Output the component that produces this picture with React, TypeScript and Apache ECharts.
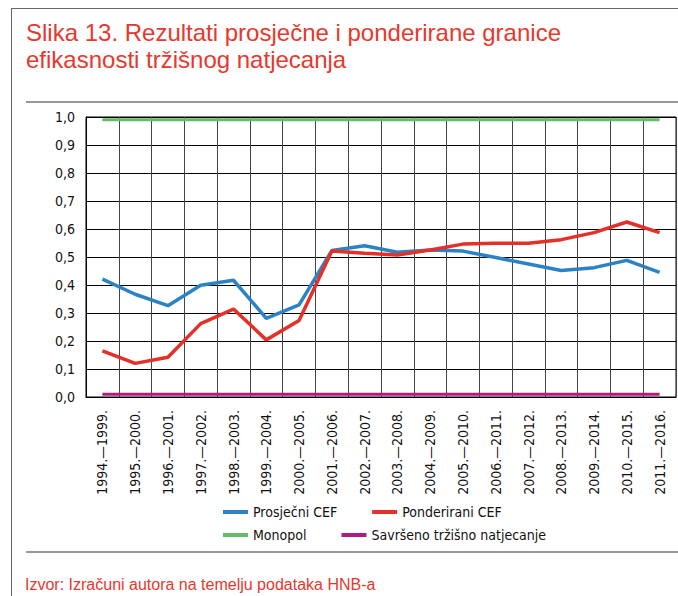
import React, { useEffect, useRef } from "react";
import * as echarts from "echarts";

const categories = [
  "1994.—1999.", "1995.—2000.", "1996.—2001.", "1997.—2002.", "1998.—2003.", "1999.—2004.",
  "2000.—2005.", "2001.—2006.", "2002.—2007.", "2003.—2008.", "2004.—2009.", "2005.—2010.",
  "2006.—2011.", "2007.—2012.", "2008.—2013.", "2009.—2014.", "2010.—2015.", "2011.—2016.",
];

const prosjecniCEF = [0.421, 0.367, 0.326, 0.399, 0.417, 0.281, 0.329, 0.523, 0.54, 0.517, 0.525, 0.521, 0.498, 0.475, 0.452, 0.462, 0.488, 0.445];
const ponderiraniCEF = [0.165, 0.12, 0.142, 0.262, 0.314, 0.204, 0.273, 0.521, 0.513, 0.507, 0.525, 0.546, 0.549, 0.549, 0.562, 0.587, 0.625, 0.587];
const monopol = [0.99, 0.99, 0.99, 0.99, 0.99, 0.99, 0.99, 0.99, 0.99, 0.99, 0.99, 0.99, 0.99, 0.99, 0.99, 0.99, 0.99, 0.99];
const savrseno = [0.01, 0.01, 0.01, 0.01, 0.01, 0.01, 0.01, 0.01, 0.01, 0.01, 0.01, 0.01, 0.01, 0.01, 0.01, 0.01, 0.01, 0.01];

const seriesNames = ["Prosječni CEF", "Ponderirani CEF", "Monopol", "Savršeno tržišno natjecanje"];
const seriesColors = ["#2b83c6", "#e53027", "#66bb6a", "#b01c7e"];

const titleText = "Slika 13. Rezultati prosječne i ponderirane granice\nefikasnosti tržišnog natjecanja";
const sourceText = "Izvor: Izračuni autora na temelju podataka HNB-a";

const NARROW = "'Liberation Sans Narrow', 'Arial Narrow', 'DejaVu Sans Condensed', sans-serif";
const REG = "'Liberation Sans', Arial, Helvetica, sans-serif";
const RED = "#e8372d";

export default function App() {
  const ref = useRef<HTMLDivElement>(null);
  useEffect(() => {
    document.body.style.margin = "0";
    if (!ref.current) return;
    const chart = echarts.init(ref.current, undefined, { renderer: "svg" });
    const dataSets = [prosjecniCEF, ponderiraniCEF, monopol, savrseno];
    const legendCommon = {
      left: 223,
      padding: 0,
      itemGap: 35,
      itemWidth: 25,
      itemHeight: 4,
      icon: "rect",
      textStyle: { fontFamily: NARROW, fontSize: 14, color: "#111" },
    };
    chart.setOption({
      animation: false,
      backgroundColor: "#ffffff",
      title: {
        text: titleText,
        left: 21,
        top: 14,
        textStyle: { fontFamily: REG, fontSize: 24, fontWeight: "normal", color: RED, lineHeight: 27 },
      },
      legend: [
        { ...legendCommon, data: [seriesNames[0], seriesNames[1]], top: 505 },
        { ...legendCommon, data: [seriesNames[2], seriesNames[3]], top: 528 },
      ],
      grid: {
        left: 86,
        right: 2,
        top: 117,
        bottom: 199,
        show: true,
        borderColor: "#000",
        borderWidth: 1,
      },
      xAxis: {
        type: "category",
        data: categories,
        boundaryGap: true,
        axisLine: { lineStyle: { color: "#000", width: 1 } },
        axisTick: { show: false, interval: 0 },
        axisLabel: { rotate: 90, margin: 13, interval: 0, fontFamily: NARROW, fontSize: 14, color: "#111" },
        splitLine: { show: true, interval: 0, lineStyle: { color: "#444", width: 1 } },
      },
      yAxis: {
        type: "value",
        min: 0,
        max: 1,
        interval: 0.1,
        axisLine: { show: true, lineStyle: { color: "#000", width: 1 } },
        axisTick: { show: false },
        axisLabel: {
          margin: 11,
          fontFamily: NARROW,
          fontSize: 14,
          color: "#111",
          formatter: (v: number) => v.toFixed(1).replace(".", ","),
        },
        splitLine: { show: true, lineStyle: { color: "#000", width: 1 } },
      },
      series: seriesNames.map((name, i) => ({
        name,
        type: "line",
        data: dataSets[i],
        symbol: "none",
        color: seriesColors[i],
        lineStyle: { color: seriesColors[i], width: i < 2 ? 3.5 : 3 },
        z: i < 2 ? 3 + i : 2,
      })),
      graphic: [
        { type: "line", shape: { x1: 11, y1: 8.5, x2: 678, y2: 8.5 }, style: { stroke: "#666", lineWidth: 1 } },
        { type: "line", shape: { x1: 11.5, y1: 8, x2: 11.5, y2: 596 }, style: { stroke: "#666", lineWidth: 1 } },
        { type: "line", shape: { x1: 26, y1: 102, x2: 678, y2: 102 }, style: { stroke: "#333", lineWidth: 1.2 } },
        { type: "line", shape: { x1: 26, y1: 552, x2: 678, y2: 552 }, style: { stroke: "#333", lineWidth: 1.2 } },
        {
          type: "text",
          left: 25,
          top: 576,
          style: { text: sourceText, fontFamily: REG, fontSize: 16, fill: RED },
        },
      ],
    });
    return () => chart.dispose();
  }, []);
  return <div ref={ref} style={{ width: 678, height: 596 }} />;
}
